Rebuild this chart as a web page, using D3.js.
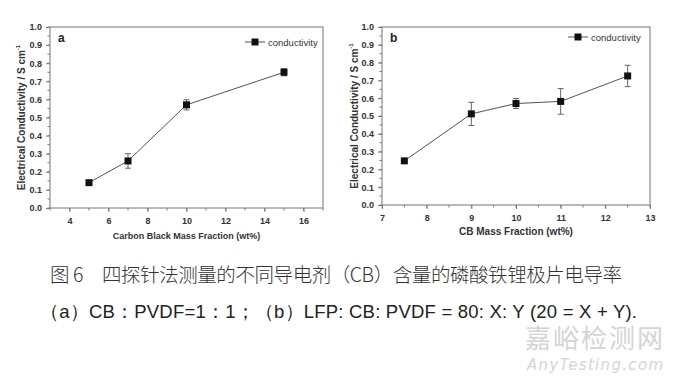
<!DOCTYPE html>
<html><head><meta charset="utf-8">
<script src="https://cdn.jsdelivr.net/npm/d3@7"></script>
<style>body{margin:0;background:#fff}svg{display:block}</style>
</head><body>
<svg id="c" width="675" height="378"></svg>
<script>
// Panel a
const aX = [5, 7, 10, 15];
const aY = [0.14, 0.26, 0.57, 0.75];
const aErr = [0.01, 0.04, 0.028, 0.02];
const aXTicks = [4, 6, 8, 10, 12, 14, 16];
// Panel b
const bX = [7.5, 9, 10, 11, 12.5];
const bY = [0.248, 0.512, 0.57, 0.582, 0.725];
const bErr = [0.005, 0.065, 0.028, 0.072, 0.06];
const bXTicks = [7, 8, 9, 10, 11, 12, 13];
const yTicks = [0, 0.1, 0.2, 0.3, 0.4, 0.5, 0.6, 0.7, 0.8, 0.9, 1.0];
const yTitle = "Electrical Conductivity / S cm";
const legendLabel = "conductivity";
const caption1 = "图 6　四探针法测量的不同导电剂（CB）含量的磷酸铁锂极片电导率";
const caption2 = "（a）CB：PVDF=1：1；（b）LFP: CB: PVDF = 80: X: Y (20 = X + Y).";

const svg = d3.select("#c");

function panel(cfg) {
  const x = d3.scaleLinear().domain(cfg.xDomain).range([cfg.l, cfg.r]);
  const y = d3.scaleLinear().domain([0, 1]).range([cfg.b, cfg.t]);
  const g = svg.append("g");
  const axisCol = "#777";
  const minorX = d3.range(cfg.xDomain[0], cfg.xDomain[1] + 1e-9, cfg.minorStep);
  g.selectAll(".mx").data(minorX).join("line")
    .attr("x1", d => x(d)).attr("x2", d => x(d))
    .attr("y1", cfg.b).attr("y2", cfg.b + 2.5)
    .attr("stroke", axisCol).attr("stroke-width", 1);
  const minorY = d3.range(0, 1.0001, 0.05);
  g.selectAll(".my").data(minorY).join("line")
    .attr("x1", cfg.l - 2.5).attr("x2", cfg.l)
    .attr("y1", d => y(d)).attr("y2", d => y(d))
    .attr("stroke", axisCol).attr("stroke-width", 1);
  const xa = g.append("g").attr("transform", `translate(0,${cfg.b})`)
    .call(d3.axisBottom(x).tickValues(cfg.xTicks).tickSize(4).tickSizeOuter(0).tickFormat(d3.format("d")));
  const ya = g.append("g").attr("transform", `translate(${cfg.l},0)`)
    .call(d3.axisLeft(y).tickValues(yTicks).tickSize(4).tickSizeOuter(0).tickFormat(d3.format(".1f")));
  [xa, ya].forEach(a => {
    a.select(".domain").remove();
    a.selectAll("line").attr("stroke", axisCol);
    a.selectAll("text").attr("fill", "#333").attr("font-family", "Liberation Sans, Arial, sans-serif")
      .attr("font-size", 9).attr("font-weight", "bold");
  });
  xa.selectAll("text").attr("dy", "1.0em");
  ya.selectAll("text").attr("dx", "-1px");
  g.append("rect").attr("x", cfg.l).attr("y", cfg.t)
    .attr("width", cfg.r - cfg.l).attr("height", cfg.b - cfg.t)
    .attr("fill", "none").attr("stroke", "#8a8a8a").attr("stroke-width", 1.2);
  const data = cfg.xs.map((d, i) => ({x: d, y: cfg.ys[i], e: cfg.errs[i]}));
  g.append("path").datum(data)
    .attr("d", d3.line().x(d => x(d.x)).y(d => y(d.y)))
    .attr("fill", "none").attr("stroke", "#555").attr("stroke-width", 1);
  const eb = g.selectAll(".eb").data(data).join("g").attr("stroke", "#666").attr("stroke-width", 1);
  eb.append("line").attr("x1", d => x(d.x)).attr("x2", d => x(d.x))
    .attr("y1", d => y(d.y - d.e)).attr("y2", d => y(d.y + d.e));
  eb.append("line").attr("x1", d => x(d.x) - 3).attr("x2", d => x(d.x) + 3)
    .attr("y1", d => y(d.y - d.e)).attr("y2", d => y(d.y - d.e));
  eb.append("line").attr("x1", d => x(d.x) - 3).attr("x2", d => x(d.x) + 3)
    .attr("y1", d => y(d.y + d.e)).attr("y2", d => y(d.y + d.e));
  g.selectAll(".pt").data(data).join("rect")
    .attr("x", d => x(d.x) - 3.5).attr("y", d => y(d.y) - 3.5)
    .attr("width", 7).attr("height", 7).attr("fill", "#111");
  g.append("text").attr("x", cfg.l + 8).attr("y", cfg.t + 15).text(cfg.label)
    .attr("font-family", "Liberation Sans, Arial, sans-serif").attr("font-weight", "bold")
    .attr("font-size", 12).attr("fill", "#222");
  const lg = g.append("g").attr("transform", `translate(${cfg.legX},${cfg.legY})`);
  lg.append("line").attr("x1", 0).attr("x2", 20).attr("y1", 0).attr("y2", 0).attr("stroke", "#555");
  lg.append("rect").attr("x", 6.5).attr("y", -3.5).attr("width", 7).attr("height", 7).attr("fill", "#111");
  lg.append("text").attr("x", 23).attr("y", 3.5).text(legendLabel)
    .attr("font-family", "Liberation Sans, Arial, sans-serif").attr("font-size", 9.5).attr("fill", "#333");
  const yt = g.append("text").attr("transform", `translate(${cfg.ytX},${(cfg.t + cfg.b) / 2}) rotate(-90)`)
    .attr("text-anchor", "middle").attr("font-family", "Liberation Sans, Arial, sans-serif")
    .attr("font-weight", "bold").attr("font-size", 10).attr("fill", "#333");
  yt.append("tspan").text(yTitle);
  yt.append("tspan").text("-1").attr("font-size", 6).attr("dy", "-0.8em");
  g.append("text").attr("x", (cfg.l + cfg.r) / 2).attr("y", cfg.xtY).attr("text-anchor", "middle")
    .attr("font-family", "Liberation Sans, Arial, sans-serif").attr("font-weight", "bold")
    .attr("font-size", cfg.xtSize).attr("fill", "#333").text(cfg.xTitle);
}

panel({xDomain: [3, 17], l: 50, r: 323, t: 27, b: 208, xTicks: aXTicks, minorStep: 1,
  xs: aX, ys: aY, errs: aErr, label: "a", legX: 245, legY: 42, ytX: 25, xtY: 239,
  xTitle: "Carbon Black Mass Fraction (wt%)", xtSize: 9});
panel({xDomain: [7, 13], l: 382, r: 650, t: 27, b: 205, xTicks: bXTicks, minorStep: 0.5,
  xs: bX, ys: bY, errs: bErr, label: "b", legX: 568, legY: 37, ytX: 358, xtY: 235,
  xTitle: "CB Mass Fraction (wt%)", xtSize: 10});

svg.append("text").attr("x", 50).attr("y", 282).text(caption1)
  .attr("font-family", "Noto Sans CJK SC, sans-serif").attr("font-size", 19.5)
  .attr("font-weight", 300).attr("fill", "#333").attr("textLength", 572);
svg.append("text").attr("x", 40).attr("y", 318).text(caption2)
  .attr("font-family", "Liberation Sans, Arial, sans-serif").attr("font-size", 18.5)
  .attr("fill", "#222").attr("textLength", 597);
svg.append("text").attr("x", 525).attr("y", 348).text("嘉峪检测网")
  .attr("font-family", "Noto Sans CJK SC, sans-serif").attr("font-size", 26)
  .attr("fill", "#d4d4d4").attr("textLength", 138);
svg.append("text").attr("x", 527).attr("y", 370).text("AnyTesting.com")
  .attr("font-family", "DejaVu Sans, sans-serif").attr("font-style", "italic").attr("font-size", 15)
  .attr("fill", "#d4d4d4").attr("textLength", 136);
</script>
</body></html>
